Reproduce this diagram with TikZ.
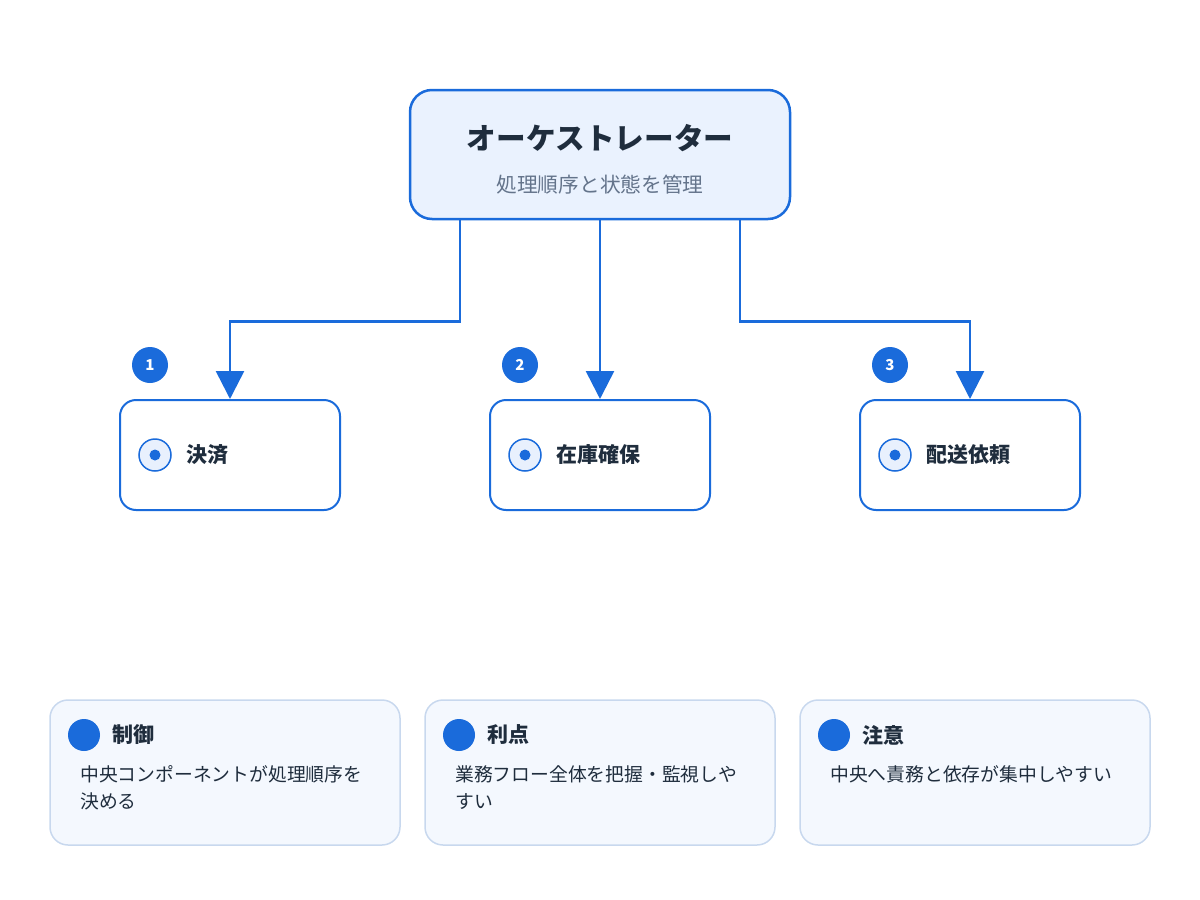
\documentclass[tikz,border=0pt]{standalone}
\usepackage{fontspec}
\setmainfont{Noto Sans CJK JP}
\usetikzlibrary{arrows.meta,positioning}

\definecolor{mainblue}{HTML}{1A6BDB}
\definecolor{darktext}{HTML}{1F2D3D}
\definecolor{subtext}{HTML}{64748B}
\definecolor{orchfill}{HTML}{EAF2FE}
\definecolor{cardfill}{HTML}{F4F8FE}
\definecolor{cardline}{HTML}{C8D8EE}
\definecolor{radiofill}{HTML}{E8F0FD}

\begin{document}
\begin{tikzpicture}[x=1pt,y=-1pt,
    orchbox/.style={draw=mainblue,line width=2.5pt,fill=orchfill,rounded corners=22pt,minimum width=380pt,minimum height=129pt},
    stepbox/.style={draw=mainblue,line width=2pt,fill=white,rounded corners=16pt,minimum width=220pt,minimum height=110pt},
    cardbox/.style={draw=cardline,line width=1.5pt,fill=cardfill,rounded corners=18pt,minimum width=350pt,minimum height=145pt},
    badge/.style={circle,fill=mainblue,minimum size=36pt,inner sep=0pt,text=white,font=\fontsize{15}{18}\selectfont\bfseries},
    radio/.style={circle,draw=mainblue,line width=1.5pt,fill=radiofill,minimum size=32pt,inner sep=0pt},
    radiodot/.style={circle,fill=mainblue,minimum size=11pt,inner sep=0pt},
    steplabel/.style={anchor=west,inner sep=0pt,text=darktext,font=\fontsize{21}{25}\selectfont\bfseries},
    carddot/.style={circle,fill=mainblue,minimum size=32pt,inner sep=0pt},
    cardtitle/.style={anchor=west,inner sep=0pt,text=darktext,font=\fontsize{21}{25}\selectfont\bfseries},
    cardtext/.style={anchor=north west,inner sep=0pt,align=left,text=darktext,font=\fontsize{18.8}{27}\selectfont},
    flow/.style={draw=mainblue,line width=2.6pt,-{Triangle[length=28pt,width=28pt]}}]
    \useasboundingbox (0,0) rectangle (1200,900);

    % orchestrator
    \node[orchbox] (orch) at (600,154.5) {};
    \node[text=darktext,font=\fontsize{29.6}{34}\selectfont\bfseries] (orchtitle) at (600,138) {オーケストレーター};
    \node[text=subtext,font=\fontsize{20.7}{24}\selectfont] (orchsub) at (600,185) {処理順序と状態を管理};

    % steps
    \node[stepbox] (pay) at (230,455) {};
    \node[stepbox] (stock) at (600,455) {};
    \node[stepbox] (ship) at (970,455) {};

    \node[badge] (b1) at (150,365) {1};
    \node[badge] (b2) at (520,365) {2};
    \node[badge] (b3) at (890,365) {3};

    \node[radio] (r1) at (155,455) {};
    \node[radiodot] at (r1) {};
    \node[radio] (r2) at (525,455) {};
    \node[radiodot] at (r2) {};
    \node[radio] (r3) at (895,455) {};
    \node[radiodot] at (r3) {};

    \node[steplabel] (l1) at (186,455) {決済};
    \node[steplabel] (l2) at (556,455) {在庫確保};
    \node[steplabel] (l3) at (926,455) {配送依頼};

    \draw[flow] ([xshift=-140pt]orch.south) -- ++(0,101) -| (pay.north);
    \draw[flow] (orch.south) -- (stock.north);
    \draw[flow] ([xshift=140pt]orch.south) -- ++(0,101) -| (ship.north);

    % notes
    \node[cardbox] (c1) at (225,772.5) {};
    \node[cardbox] (c2) at (600,772.5) {};
    \node[cardbox] (c3) at (975,772.5) {};

    \node[carddot] (d1) at (84,735) {};
    \node[carddot] (d2) at (459,735) {};
    \node[carddot] (d3) at (834,735) {};

    \node[cardtitle] (t1) at (112,735) {制御};
    \node[cardtitle] (t2) at (487,735) {利点};
    \node[cardtitle] (t3) at (862,735) {注意};

    \node[cardtext] (x1) at (80,765) {中央コンポーネントが処理順序を\\決める};
    \node[cardtext] (x2) at (455,765) {業務フロー全体を把握・監視しや\\すい};
    \node[cardtext] (x3) at (830,765) {中央へ責務と依存が集中しやすい};
\end{tikzpicture}
\end{document}
